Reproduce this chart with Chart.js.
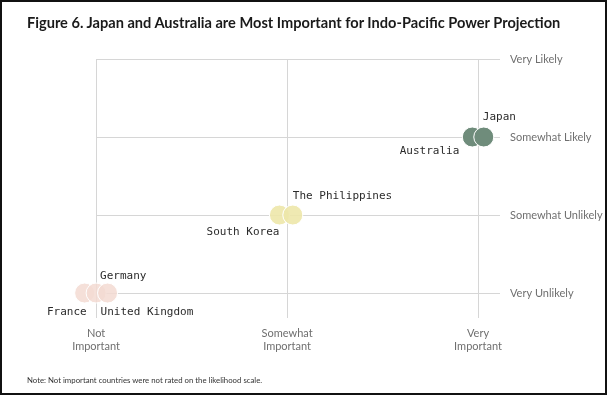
<!DOCTYPE html>
<html>
<head>
<meta charset="utf-8">
<script src="https://cdn.jsdelivr.net/npm/chart.js@4"></script>
<style>
  html, body { margin: 0; padding: 0; background: #fff; }
  #frame {
    position: relative;
    width: 609px; height: 397px;
    box-sizing: border-box;
  }
  #frame::after {
    content: ''; position: absolute; left: 0; top: 0;
    width: 607px; height: 395px; box-sizing: border-box;
    border: 2px solid #111; pointer-events: none;
  }
  #chart { position: absolute; left: 0; top: 0; }
  h1 {
    position: absolute; left: 27px; top: 14px; margin: 0;
    font: bold 14.6px Lato, sans-serif; color: #1a1a1a; white-space: nowrap;
  }
  .note {
    position: absolute; left: 27px; top: 375px; margin: 0;
    font: 7.8px Lato, sans-serif; color: #333; white-space: nowrap;
  }
</style>
</head>
<body>
<div id="frame">
  <canvas id="chart" width="609" height="397"></canvas>
  <h1>Figure 6. Japan and Australia are Most Important for Indo-Pacific Power Projection</h1>
  <p class="note">Note: Not important countries were not rated on the likelihood scale.</p>
</div>
<script>
// --- DONNÉES ---
const countries = ['France', 'Germany', 'United Kingdom', 'South Korea', 'The Philippines', 'Australia', 'Japan'];
// importance : 0 = pas important, 1 = assez important, 2 = très important (petit décalage)
const importance = [-0.06, 0, 0.06, 0.96, 1.03, 1.97, 2.03];
// probabilité : 0 = très peu probable ... 3 = très probable
const likelihood = [0, 0, 0, 1, 1, 2, 2];

const importanceLabels = [['Not', 'Important'], ['Somewhat', 'Important'], ['Very', 'Important']];
const likelihoodLabels = ['Very Unlikely', 'Somewhat Unlikely', 'Somewhat Likely', 'Very Likely'];

// couleurs par groupe
const pink = 'rgba(243, 218, 210, 0.85)';
const yellow = 'rgba(237, 231, 170, 0.9)';
const green = '#6f8c7b';
const pointColors = [pink, pink, pink, yellow, yellow, green, green];

// placement des étiquettes (décalage en px par rapport au point)
const labelPlacement = [
    { align: 'right', dx: 2, dy: 19 },
    { align: 'left', dx: 4, dy: -17 },
    { align: 'left', dx: -7, dy: 19 },
    { align: 'right', dx: 0, dy: 17 },
    { align: 'left', dx: 0, dy: -19 },
    { align: 'right', dx: -13, dy: 14 },
    { align: 'left', dx: -1, dy: -20 }
];

// Les lignes horizontales commencent à "Not Important" (x = 0), pas au bord de la zone
const gridMask = {
    id: 'gridMask',
    beforeDatasetsDraw(chart) {
        const { ctx, chartArea } = chart;
        const x0 = Math.floor(chart.scales.x.getPixelForValue(0));
        ctx.save();
        ctx.fillStyle = '#ffffff';
        ctx.fillRect(chartArea.left - 1, chartArea.top - 2, x0 - chartArea.left + 1, chartArea.height + 4);
        ctx.restore();
    }
};

const pointLabels = {
    id: 'pointLabels',
    afterDatasetsDraw(chart) {
        const ctx = chart.ctx;
        const meta = chart.getDatasetMeta(0);
        ctx.save();
        ctx.font = '11px "DejaVu Sans Mono", monospace';
        ctx.fillStyle = '#2b2b2b';
        ctx.textBaseline = 'middle';
        meta.data.forEach((pt, i) => {
            const p = labelPlacement[i];
            ctx.textAlign = p.align;
            ctx.fillText(countries[i], pt.x + p.dx, pt.y + p.dy);
        });
        ctx.restore();
    }
};

new Chart(document.getElementById('chart'), {
    type: 'scatter',
    data: {
        datasets: [{
            data: importance.map((x, i) => ({ x: x, y: likelihood[i] })),
            backgroundColor: pointColors,
            borderColor: '#ffffff',
            borderWidth: 1,
            pointRadius: 10,
            pointHoverRadius: 10,
            clip: false
        }]
    },
    options: {
        responsive: false,
        animation: false,
        layout: { padding: { left: 77, top: 59, right: 0, bottom: 39 } },
        plugins: {
            legend: { display: false },
            tooltip: { enabled: false }
        },
        scales: {
            x: {
                type: 'linear',
                min: -0.1,
                max: 2.115,
                afterBuildTicks: scale => { scale.ticks = [0, 1, 2].map(v => ({ value: v })); },
                afterFit: scale => { scale.height = 40; },
                border: { display: false },
                grid: { color: '#d6d6d6', drawTicks: false, lineWidth: 1 },
                ticks: {
                    padding: 9,
                    color: '#6f6f6f',
                    font: { family: 'Lato', size: 11 },
                    callback: v => importanceLabels[v]
                }
            },
            y: {
                type: 'linear',
                position: 'right',
                min: -0.32,
                max: 3,
                afterBuildTicks: scale => { scale.ticks = [0, 1, 2, 3].map(v => ({ value: v })); },
                afterFit: scale => { scale.width = 109; },
                border: { display: false },
                grid: { color: '#d6d6d6', drawTicks: false, lineWidth: 1 },
                ticks: {
                    padding: 10,
                    color: '#6f6f6f',
                    font: { family: 'Lato', size: 11 },
                    callback: v => likelihoodLabels[v]
                }
            }
        }
    },
    plugins: [gridMask, pointLabels]
});
</script>
</body>
</html>
